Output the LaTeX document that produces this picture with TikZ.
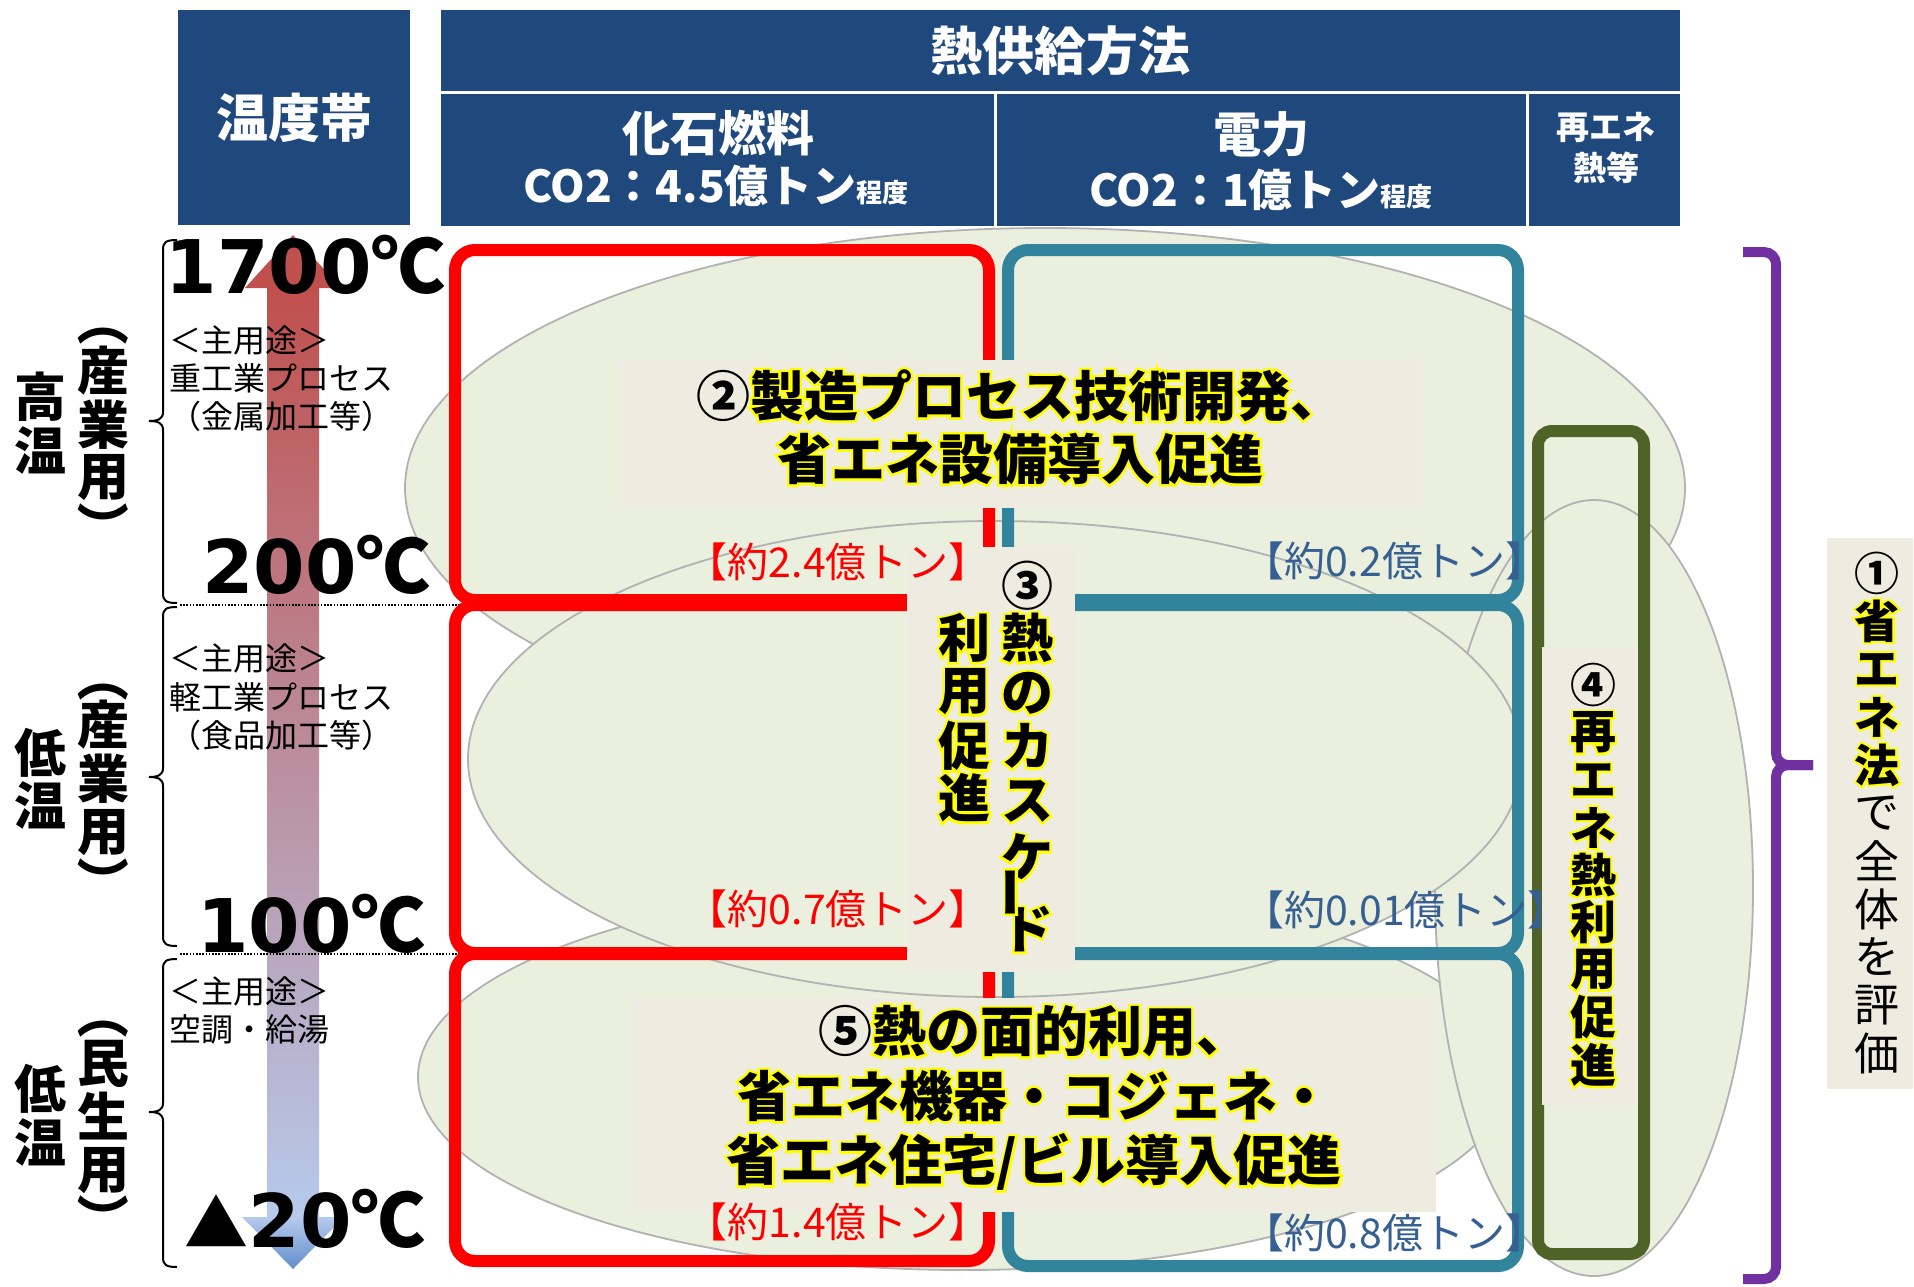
\documentclass[tikz,border=0pt]{standalone}
\usepackage{fontspec}
\setmainfont{Noto Sans CJK JP}
\newfontfamily\dvs{DejaVu Sans}
\newfontfamily\glowf[FakeBold=9]{Noto Sans CJK JP Bold}
\definecolor{hdrblue}{RGB}{31,73,125}
\definecolor{tealb}{RGB}{49,132,155}
\definecolor{oliveg}{RGB}{79,98,40}
\definecolor{purp}{RGB}{112,48,160}
\definecolor{ellfill}{RGB}{234,239,222}
\definecolor{ellline}{RGB}{178,178,178}
\definecolor{tbox}{RGB}{238,236,225}
\definecolor{lblblue}{RGB}{54,96,146}
\definecolor{arrred}{RGB}{192,80,77}
\definecolor{arrmid}{RGB}{196,158,180}
\definecolor{arrblue}{RGB}{182,202,236}
\definecolor{arrdark}{RGB}{98,142,204}
\definecolor{glowy}{RGB}{255,255,0}
\newcommand\fs[2]{\fontsize{#1}{#2}\selectfont}
\newcommand\glow[1]{\leavevmode\rlap{\glowf\color{glowy}#1}#1}
\tikzset{
 hdr/.style={fill=hdrblue, inner sep=0pt, text=white},
 htxt/.style={inner sep=0pt, text=white},
 rbox/.style={draw=red, line width=12pt, rounded corners=20pt},
 bbox/.style={draw=tealb, line width=12pt, rounded corners=20pt},
 gbox/.style={draw=oliveg, line width=12pt, rounded corners=14pt},
 ell/.style={fill=ellfill, draw=ellline, line width=1.8pt},
 vch/.style={inner sep=0pt},
 lab/.style={inner sep=0pt, font=\fs{41}{41}},
 usage/.style={inner sep=0pt, anchor=west, font=\fs{32}{32}},
 temp/.style={inner sep=0pt, anchor=base east, font=\dvs\bfseries\fs{74}{74}},
 lbr/.style={draw=black, line width=2pt},
 dotl/.style={draw=black, line width=1.6pt, dash pattern=on 1.6pt off 1.6pt},
 pbr/.style={draw=purp, line width=10pt, rounded corners=12pt},
}
\newcommand\lbrc[3]{%
 \draw[lbr] (177,#1) .. controls (166,#1) and (163,{#1+2}) .. (163,{#1+10}) -- (163,{#2-9}) .. controls (163,{#2-2}) and (158,#2) .. (149,#2) .. controls (158,#2) and (163,{#2+2}) .. (163,{#2+9}) -- (163,{#3-10}) .. controls (163,{#3-2}) and (166,#3) .. (177,#3);}
\begin{document}
\begin{tikzpicture}[x=1pt,y=-1pt]
\fill[white] (0,0) rectangle (1914,1286);
\useasboundingbox (0,0) rectangle (1914,1286);

% temperature arrow
\shade[top color=arrred, middle color=arrmid, bottom color=arrblue] (267,288) rectangle (319,1217);
\fill[arrred] (245,288) -- (341,288) -- (293,235) -- cycle;
\shade[top color=arrblue, bottom color=arrdark] (242,1217) -- (344,1217) -- (293,1269) -- cycle;

% dotted band limits
\draw[dotl] (180,605) -- (1535,605);
\draw[dotl] (180,954) -- (1535,954);

% ellipses
\draw[ell] (964,1077) ellipse [x radius=546, y radius=193];
\draw[ell] (1045,488) ellipse [x radius=640, y radius=260];
\draw[ell] (1594,888) ellipse [x radius=159, y radius=388];
\draw[ell] (995,759) ellipse [x radius=527, y radius=238];

% boxes
\draw[rbox] (455,250) rectangle (989,600);
\draw[rbox] (455,605) rectangle (989,953);
\draw[rbox] (455,954) rectangle (989,1261);
\draw[bbox] (1008,250) rectangle (1518,600);
\draw[bbox] (1008,605) rectangle (1518,953);
\draw[bbox] (1008,954) rectangle (1518,1266);
\draw[gbox] (1538,431) rectangle (1644,1254);

% text backgrounds
\fill[tbox] (618,360) rectangle (1422,508);
\fill[tbox] (907,547) rectangle (1075,972);
\fill[tbox] (633,998) rectangle (1436,1212);
\fill[tbox] (1542,647) rectangle (1638,1105);
\fill[tbox] (1827,538) rectangle (1913,1089);

% texts 2 and 5
\node[inner sep=0pt, align=center, font=\fs{54}{63}\bfseries] (t2) at (1020,427)
 {②\glow{製造プロセス技術開発、}\\\glow{省エネ設備導入促進}};
\node[inner sep=0pt, align=center, font=\fs{54}{64.5}\bfseries] (t5) at (1034,1098)
 {⑤\glow{熱の面的利用、}\\\glow{省エネ機器・コジェネ・}\\\glow{省エネ住宅/ビル導入促進}};

% text 3 (vertical)
\foreach \yy/\cc in {586/③, 638/\glow{熱}, 693/\glow{の}, 746/\glow{カ}, 801/\glow{ス}, 857/\glow{ケ}, 929/\glow{ド}}
  \node[vch, font=\fs{52}{52}\bfseries] (c3r-\yy) at (1027,\yy) {\cc};
\node[vch, font=\fs{52}{52}\bfseries, rotate=90, text height=0.76em, text depth=0pt] (c3r-892) at (1027,892) {\glow{ー}};
\foreach \yy/\cc in {638/\glow{利}, 692/\glow{用}, 746/\glow{促}, 798/\glow{進}}
  \node[vch, font=\fs{52}{52}\bfseries] (c3l-\yy) at (964,\yy) {\cc};

% text 4 (vertical)
\foreach \i/\cc in {0/④, 1/\glow{再}, 2/\glow{エ}, 3/\glow{ネ}, 4/\glow{熱}, 5/\glow{利}, 6/\glow{用}, 7/\glow{促}, 8/\glow{進}}
  \node[vch, font=\fs{46}{46}\bfseries] (c4-\i) at (1593,{685+47.5*\i}) {\cc};

% text 1 (vertical)
\foreach \i/\cc in {0/①, 1/\glow{省}, 2/\glow{エ}, 3/\glow{ネ}, 4/\glow{法}}
  \node[vch, font=\fs{45}{45}\bfseries] (c1-\i) at (1877,{573+48*\i}) {\cc};
\foreach \i/\cc in {5/で, 6/全, 7/体, 8/を, 9/評, 10/価}
  \node[vch, font=\fs{45}{45}] (c1-\i) at (1877,{573+48*\i}) {\cc};

% amount labels
\node[lab, text=red, anchor=east] (r1) at (990,562) {【約2.4億トン】};
\node[lab, text=red, anchor=east] (r2) at (990,909) {【約0.7億トン】};
\node[lab, text=red, anchor=east] (r3) at (990,1222) {【約1.4億トン】};
\node[lab, text=lblblue, anchor=west] (b1) at (1243,561) {【約0.2億トン】};
\node[lab, text=lblblue, anchor=west] (b2) at (1243,910) {【約0.01億トン】};
\node[lab, text=lblblue, anchor=west] (b3) at (1243,1233) {【約0.8億トン】};

% header
\node[hdr, minimum width=232pt, minimum height=215pt, font=\fs{52}{60}\bfseries] (ondo) at (294,117.5) {温度帯};
\node[hdr, minimum width=1239pt, minimum height=81pt, font=\fs{52}{60}\bfseries] (kyokyu) at (1060.5,50.5) {熱供給方法};
\node[hdr, minimum width=553pt, minimum height=132pt] (kaseki) at (717.5,160) {};
\node[hdr, minimum width=529pt, minimum height=132pt] (denryoku) at (1261.5,160) {};
\node[hdr, minimum width=151pt, minimum height=132pt] (saiene) at (1604.5,160) {};
\node[htxt, font=\fs{48}{48}\bfseries] (kasekiT) at (718,133) {化石燃料};
\node[htxt, font=\fs{44}{44}\bfseries, anchor=base] (kasekiC) at (716,202) {CO2：4.5億トン{\fs{26}{26}程度}};
\node[htxt, font=\fs{48}{48}\bfseries] (denT) at (1261,134) {電力};
\node[htxt, font=\fs{44}{44}\bfseries, anchor=base] (denC) at (1261,206) {CO2：1億トン{\fs{26}{26}程度}};
\node[htxt, font=\fs{33}{41}\bfseries, align=center] (saieneT) at (1606,148) {再エネ\\熱等};

% left braces
\lbrc{240}{421}{603}
\lbrc{607}{777}{946}
\lbrc{959}{1112}{1267}

% usage texts
\node[usage] (u1a) at (169,340) {＜主用途＞};
\node[usage] (u1b) at (169,378) {重工業プロセス};
\node[usage] (u1c) at (169,416) {（金属加工等）};
\node[usage] (u2a) at (169,658) {＜主用途＞};
\node[usage] (u2b) at (169,697) {軽工業プロセス};
\node[usage] (u2c) at (169,735) {（食品加工等）};
\node[usage] (u3a) at (169,991) {＜主用途＞};
\node[usage] (u3b) at (169,1029) {空調・給湯};

% vertical category labels
\foreach \yy/\cc in {397/高, 450/温, 753/低, 805/温, 1089/低, 1142/温}
  \node[vch, font=\fs{52}{52}\bfseries] (la-\yy) at (40,\yy) {\cc};
\foreach \yy/\cc in {371/産, 425/業, 478/用, 725/産, 779/業, 833/用, 1064/民, 1116/生, 1171/用}
  \node[vch, font=\fs{52}{52}\bfseries] (lb-\yy) at (103,\yy) {\cc};
\foreach \yy in {320, 676, 1013}
  \node[vch, font=\fs{52}{52}\bfseries, rotate=-90] (lpo-\yy) at (103,\yy) {（};
\foreach \yy in {527, 882, 1219}
  \node[vch, font=\fs{52}{52}\bfseries, rotate=-90] (lpc-\yy) at (103,\yy) {）};

% temperatures
\node[temp] (t1700) at (446,293) {1700{\rmfamily ℃}};
\node[temp] (t200) at (431,593) {200{\rmfamily ℃}};
\node[temp] (t100) at (426,952) {100{\rmfamily ℃}};
\node[temp] (t20) at (426,1247) {{\rmfamily\fs{64}{64}▲}20{\rmfamily ℃}};

% purple brace
\draw[pbr] (1743,252) -- (1776,252) -- (1776,765) -- (1813,765);
\draw[pbr] (1743,1279) -- (1776,1279) -- (1776,765) -- (1813,765);
\end{tikzpicture}
\end{document}
